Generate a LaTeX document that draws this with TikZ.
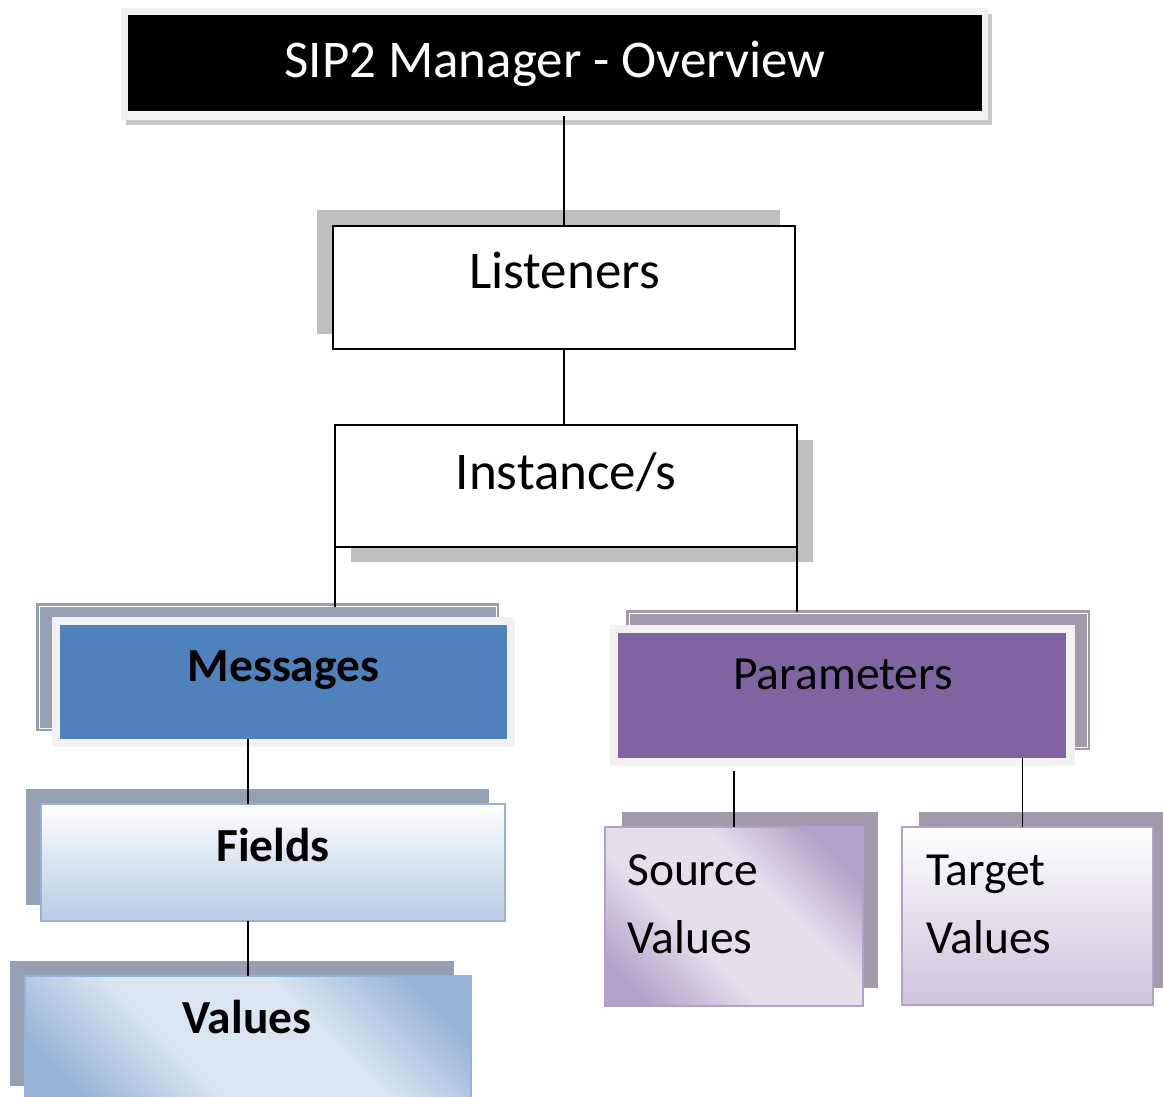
\documentclass[tikz,border=0pt]{standalone}
\usepackage{fontspec}
\setmainfont{Carlito}
\usetikzlibrary{calc}

\definecolor{shadowgrey}{RGB}{191,191,191}
\definecolor{framegrey}{RGB}{242,242,242}
\definecolor{titleshade}{RGB}{200,200,200}
\definecolor{bluegrey}{RGB}{149,161,178}
\definecolor{purplegrey}{RGB}{162,154,171}
\definecolor{msgblue}{RGB}{79,129,189}
\definecolor{prmpurple}{RGB}{128,100,162}
\definecolor{lightblue}{RGB}{185,205,229}
\definecolor{paleblue}{RGB}{219,229,241}
\definecolor{edgeblue}{RGB}{149,179,215}
\definecolor{lilac}{RGB}{179,162,199}
\definecolor{palelilac}{RGB}{229,223,236}
\definecolor{softlilac}{RGB}{206,195,220}

\pgfdeclareverticalshading{valshade}{100bp}{color(0bp)=(edgeblue); color(22bp)=(edgeblue); color(40bp)=(paleblue); color(60bp)=(paleblue); color(78bp)=(edgeblue); color(100bp)=(edgeblue)}
\pgfdeclareverticalshading{srcshade}{100bp}{color(0bp)=(lilac); color(22bp)=(lilac); color(40bp)=(palelilac); color(60bp)=(palelilac); color(76bp)=(lilac); color(100bp)=(lilac)}

\begin{document}
\begin{tikzpicture}[
  x=1pt, y=-1pt,
  box/.style={rectangle, inner sep=0pt, outer sep=0pt},
  dims/.style 2 args={minimum width=#1pt, minimum height=#2pt},
  backbox/.style={box, fill=#1, path picture={\draw[white, line width=0.8pt] ([shift={(3pt,-3pt)}]path picture bounding box.north west) rectangle ([shift={(-3pt,3pt)}]path picture bounding box.south east);}},
  whitebox/.style={box, fill=white, draw=black, line width=1.5pt},
  softbox/.style={box, line width=2pt},
  bigtxt/.style={anchor=base, inner sep=0pt, font=\fontsize{53}{64}\selectfont},
  midtxt/.style={anchor=base, inner sep=0pt, font=\fontsize{47.5}{68}\selectfont},
  boldtxt/.style={midtxt, font=\fontsize{47.5}{68}\selectfont\bfseries},
  conn/.style={draw, line width=1.5pt}
]
\useasboundingbox (0,0) rectangle (1163,1097);
\clip (0,0) rectangle (1163,1097);

% title
\node[box, dims={866}{111}, fill=titleshade] (ttlshadow) at (559,69.5) {};
\node[box, dims={867}{112}, fill=framegrey] (ttlframe) at (554.5,64) {};
\node[box, dims={854}{96}, fill=black] (ttl) at (555,63) {};
\node[bigtxt, text=white] (ttltxt) at (555,78) {SIP2 Manager - Overview};

% listeners and instances
\node[box, dims={463}{124}, fill=shadowgrey] (lstshadow) at (548.5,272) {};
\node[whitebox, dims={462}{123}] (lst) at (564,287.5) {};
\node[bigtxt] (lsttxt) at (564.5,288.5) {Listeners};
\node[box, dims={462}{122}, fill=shadowgrey] (insshadow) at (582,501) {};
\node[whitebox, dims={462}{122}] (ins) at (566,486) {};
\node[bigtxt] (instxt) at (566,489) {Instance/s};

% messages branch
\node[backbox=bluegrey, dims={463}{128}] (msgback) at (267.5,667) {};
\node[box, dims={463}{130}, fill=framegrey] (msgframe) at (283.5,682) {};
\node[box, dims={447}{114}, fill=msgblue] (msg) at (283.5,682) {};
\node[boldtxt] (msgtxt) at (283.5,681) {Messages};
\node[box, dims={463}{116}, fill=bluegrey] (fldback) at (257.5,847) {};
\node[softbox, dims={464}{117}, draw=edgeblue, top color=white, bottom color=lightblue, middle color=lightblue!55!white] (fld) at (273,862.5) {};
\node[boldtxt] (fldtxt) at (273,861) {Fields};
\node[box, dims={444}{125}, fill=bluegrey] (valback) at (232,1023.5) {};
\node[softbox, dims={446}{125}, draw=edgeblue, shade, shading=valshade, shading angle=-45] (val) at (248,1038.5) {};
\node[boldtxt] (valtxt) at (247,1033) {Values};

% parameters branch
\node[backbox=purplegrey, dims={464}{140}] (prmback) at (858,680) {};
\node[box, dims={465}{141}, fill=framegrey] (prmframe) at (842.5,695.5) {};
\node[box, dims={448}{125}, fill=prmpurple] (prm) at (842,695.5) {};
\node[midtxt] (prmtxt) at (843,689) {Parameters};
\node[box, dims={256}{176}, fill=purplegrey] (srcback) at (750,900) {};
\node[softbox, dims={258}{179}, draw=lilac, shade, shading=srcshade, shading angle=-45] (src) at (734,916.5) {};
\node[midtxt, anchor=base west, align=left] (srctxt) at (627,953) {Source\\Values};
\node[box, dims={251}{176}, fill=purplegrey] (tgtback) at (1044.5,900) {};
\node[softbox, dims={251}{178}, draw=lilac, top color=white, bottom color=softlilac, middle color=palelilac] (tgt) at (1027.5,916) {};
\node[midtxt, anchor=base west, align=left] (tgttxt) at (926,953) {Target\\Values};

\draw[conn] ([yshift=-5pt]ttl.south -| lst.north) -- (lst.north);
\draw[conn] (lst.south) -- (lst.south |- ins.north);
\draw[conn] (ins.south west) -- ([yshift=-4pt]ins.south west |- msgback.north);
\draw[conn] (ins.south east) -- ([yshift=-2pt]ins.south east |- prmback.north);
\draw[conn] (val.north |- msg.south) -- (val.north |- fld.north);
\draw[conn] (fld.south -| val.north) -- (val.north);
\draw[conn] ([yshift=-5pt]src.north |- prmframe.south) -- (src.north);
\draw[conn] ([xshift=-5pt]tgt.north |- prm.south) -- ([xshift=-5pt]tgt.north);
\end{tikzpicture}
\end{document}
